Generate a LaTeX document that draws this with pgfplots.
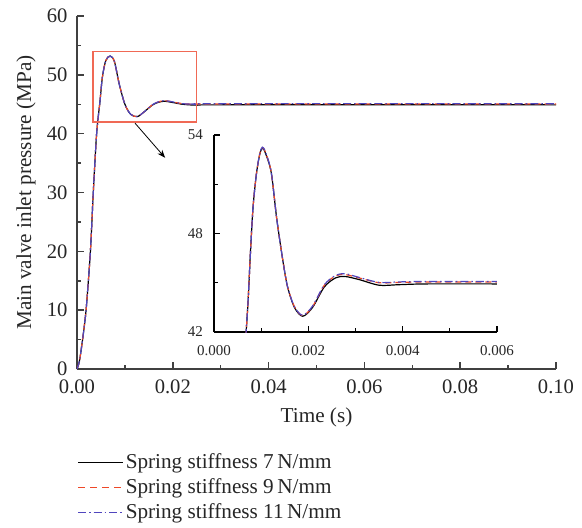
\documentclass[border=0pt]{standalone}
\usepackage{fontspec}
\setmainfont{Liberation Serif}
\usepackage{pgfplots}
\pgfplotsset{compat=1.18}
\usetikzlibrary{arrows.meta}
\definecolor{axgray}{RGB}{64,64,64}
\definecolor{cred}{RGB}{238,72,40}
\definecolor{cblue}{RGB}{80,70,190}
\definecolor{boxred}{RGB}{240,105,85}
\definecolor{txt}{RGB}{38,38,38}
\begin{document}
\begin{tikzpicture}
\path[use as bounding box] (-38.5pt,-79pt) rectangle (252.5pt,184.5pt);
\begin{axis}[
  at={(0,0)}, anchor=south west,
  scale only axis, width=239.5pt, height=176.5pt,
  xmin=0, xmax=0.1, ymin=0, ymax=60,
  axis lines=left, axis line style={-, axgray, line width=0.75pt},
  tick style={axgray, line width=0.75pt},
  tick align=inside, major tick length=3.3pt, minor tick length=1.8pt,
  xtick={0,0.02,0.04,0.06,0.08,0.1}, minor x tick num=1,
  ytick={0,10,20,30,40,50,60}, minor y tick num=1,
  scaled x ticks=false,
  /pgf/number format/assume math mode=true,
  xticklabel style={/pgf/number format/fixed, /pgf/number format/fixed zerofill, /pgf/number format/precision=2, yshift=-1.8pt},
  yticklabel style={xshift=-1.2pt},
  tick label style={font=\fontsize{10.3}{12}\selectfont, text=txt},
  label style={font=\fontsize{10.6}{12}\selectfont, text=txt},
  xlabel={Time (s)},
  ylabel={Main valve inlet pressure (MPa)},
  xlabel style={at={(axis description cs:0.5,-0.136)}, anchor=center},
  ylabel style={at={(axis description cs:-0.1065,0.5)}, anchor=center},
  legend style={at={(axis description cs:0,0)}, anchor=north west, yshift=-41pt,
    draw=none, fill=none, inner sep=0pt, row sep=1.6pt,
    nodes={inner sep=1pt}, font=\fontsize{10.6}{12}\selectfont},
  legend cell align=left,
  legend image code/.code={\draw[#1] (0pt,0pt) -- (17.5pt,0pt); \path (0pt,0pt) -- (22.5pt,0pt);},
]
\addplot[black, line width=0.6pt, smooth, forget plot] coordinates {
(0,0) (0.0005,1.3) (0.0011,4.6) (0.0016,7.8) (0.002,11) (0.0028,20) (0.0034,30)
(0.0041,40) (0.0048,45.5) (0.0053,49.6) (0.006,52.4) (0.0069,53.2) (0.0078,52.3)
(0.0088,48.5) (0.0100,45) (0.0112,43.3) (0.0126,42.9) (0.0140,43.7) (0.0160,45.0)
(0.018,45.5) (0.020,45.3) (0.022,45.0) (0.025,44.85) (0.030,44.9) (0.1,44.9)};
\addplot[color=cred, line width=0.6pt, dash pattern=on 3pt off 2pt, smooth, forget plot] coordinates {
(0,0) (0.0005,1.3) (0.0011,4.6) (0.0016,7.8) (0.002,11) (0.0028,20) (0.0034,30)
(0.0041,40) (0.0048,45.5) (0.0053,49.6) (0.006,52.4) (0.0069,53.2) (0.0078,52.3)
(0.0088,48.5) (0.0100,45) (0.0112,43.3) (0.0126,42.9) (0.0140,43.7) (0.0160,45.05)
(0.018,45.6) (0.020,45.4) (0.022,45.1) (0.025,45.0) (0.030,45.05) (0.1,45.05)};
\addplot[color=cblue, line width=0.6pt, dash pattern=on 4pt off 1.5pt on 0.8pt off 1.5pt, smooth, forget plot] coordinates {
(0,0) (0.0005,1.3) (0.0011,4.6) (0.0016,7.8) (0.002,11) (0.0028,20) (0.0034,30)
(0.0041,40) (0.0048,45.5) (0.0053,49.6) (0.006,52.4) (0.0069,53.2) (0.0078,52.3)
(0.0088,48.5) (0.0100,45) (0.0112,43.3) (0.0126,42.9) (0.0140,43.7) (0.0160,45.05)
(0.018,45.6) (0.020,45.4) (0.022,45.1) (0.025,45.0) (0.030,45.1) (0.1,45.1)};
\addlegendimage{draw=black, line width=0.6pt}
\addlegendentry{\textcolor{txt}{Spring stiffness 7\,N/mm}}
\addlegendimage{draw=cred, line width=0.7pt, dash pattern=on 3.5pt off 2.5pt}
\addlegendentry{\textcolor{txt}{Spring stiffness 9\,N/mm}}
\addlegendimage{draw=cblue, line width=0.6pt, dash pattern=on 4pt off 1.5pt on 0.8pt off 1.5pt}
\addlegendentry{\textcolor{txt}{Spring stiffness 11\,N/mm}}
\draw[boxred, line width=0.7pt] (axis cs:0.0033,42) rectangle (axis cs:0.025,54);
\draw[black, line width=0.4pt, -{Stealth[length=4pt,width=3pt]}] (axis cs:0.0121,41.8) -- (axis cs:0.0184,35.9);
\end{axis}
\begin{axis}[
  at={(68.5pt,18.5pt)}, anchor=south west,
  scale only axis, width=141.5pt, height=98.5pt,
  xmin=0, xmax=0.006, ymin=42, ymax=54,
  axis lines=left, axis line style={-, black, line width=0.6pt},
  tick style={black, line width=0.6pt},
  tick align=inside, major tick length=3pt, minor tick length=1.8pt,
  xtick={0,0.002,0.004,0.006}, minor x tick num=1,
  ytick={42,48,54}, minor y tick num=1,
  scaled x ticks=false,
  /pgf/number format/assume math mode=true,
  xticklabel style={/pgf/number format/fixed, /pgf/number format/fixed zerofill, /pgf/number format/precision=3, yshift=-3pt},
  yticklabel style={xshift=-2pt},
  tick label style={font=\fontsize{7.5}{9}\selectfont, text=txt},
  clip=true,
]
\addplot[black, line width=0.6pt, smooth] coordinates {
(0.000674,41.7) (0.000723,43.9) (0.000772,46.8) (0.000828,49.6) (0.000898,51.6)
(0.000968,52.8) (0.001025,53.2) (0.00109,52.9) (0.001214,51.7) (0.00133,48.9)
(0.001459,46.37) (0.00156,44.75) (0.001705,43.5) (0.00188,42.96) (0.00209,43.5)
(0.00234,44.75) (0.00258,45.3) (0.00278,45.38) (0.00307,45.2) (0.0035,44.85)
(0.0039,44.88) (0.0045,44.93) (0.006,44.93)};
\addplot[color=cred, line width=0.6pt, dash pattern=on 3pt off 2pt, smooth] coordinates {
(0.000674,41.7) (0.000723,43.9) (0.000772,46.8) (0.000828,49.6) (0.000898,51.6)
(0.000968,52.82) (0.001025,53.23) (0.00109,52.95) (0.001214,51.72) (0.00133,48.9)
(0.001459,46.37) (0.00156,44.75) (0.001705,43.55) (0.00188,43.0) (0.00209,43.55)
(0.00234,44.85) (0.00258,45.42) (0.00278,45.5) (0.00307,45.3) (0.0035,45.0)
(0.0039,45.02) (0.0045,45.05) (0.006,45.05)};
\addplot[color=cblue, line width=0.6pt, dash pattern=on 4pt off 1.5pt on 0.8pt off 1.5pt, smooth] coordinates {
(0.000674,41.7) (0.000723,43.9) (0.000772,46.8) (0.000828,49.6) (0.000898,51.6)
(0.000968,52.84) (0.001025,53.26) (0.00109,52.97) (0.001214,51.74) (0.00133,48.9)
(0.001459,46.37) (0.00156,44.75) (0.001705,43.55) (0.00188,43.02) (0.00209,43.58)
(0.00234,44.88) (0.00258,45.45) (0.00278,45.55) (0.00307,45.33) (0.0035,45.02)
(0.0039,45.05) (0.0045,45.08) (0.006,45.08)};
\end{axis}
\end{tikzpicture}
\end{document}
